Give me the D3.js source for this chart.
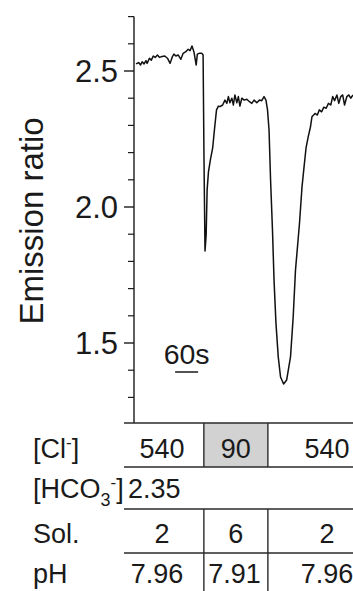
<!DOCTYPE html>
<html>
<head>
<meta charset="utf-8">
<script src="https://cdn.jsdelivr.net/npm/d3@7"></script>
<style>
  html, body { margin: 0; padding: 0; background: #fff; }
  svg { display: block; }
  text { font-family: "Liberation Sans", Arial, Helvetica, sans-serif; fill: #1a1a1a; }
</style>
</head>
<body>
<script>
// ---- data (time in s, emission ratio) ----
const time = [0, 7, 12, 16, 21, 26, 29, 35, 40, 45, 50, 56, 61, 68, 75, 82, 89, 95, 99, 104,
  110, 117, 123, 130, 136, 141, 146, 151, 157, 160, 165, 172, 175, 177.4, 180, 183, 185.5, 189, 194, 200,
  205, 210, 215, 219, 226, 232, 237, 241, 245, 250, 254, 258, 263, 267, 271, 276, 282, 289, 296, 302,
  308, 315, 322, 328, 334, 339, 343, 347, 351, 356, 360, 365, 371, 377, 385, 393, 403, 410, 416, 426.5,
  433, 438, 443.5, 449, 455, 459, 467, 473, 478, 484, 490, 496, 502, 508, 513, 518, 524, 529, 534, 539,
  544, 550, 555, 560, 566];
const ratio = [2.526, 2.531, 2.522, 2.534, 2.526, 2.538, 2.528, 2.547, 2.540, 2.555, 2.550, 2.559, 2.550, 2.553, 2.555, 2.547, 2.528, 2.553, 2.562, 2.555,
  2.559, 2.543, 2.565, 2.571, 2.580, 2.575, 2.592, 2.571, 2.522, 2.562, 2.565, 2.565, 2.559, 2.173, 1.838, 1.897, 2.063, 2.129, 2.173, 2.217,
  2.290, 2.357, 2.371, 2.369, 2.375, 2.393, 2.381, 2.406, 2.383, 2.400, 2.375, 2.412, 2.383, 2.406, 2.371, 2.400, 2.393, 2.396, 2.387, 2.381,
  2.393, 2.383, 2.393, 2.391, 2.406, 2.393, 2.357, 2.283, 2.099, 1.915, 1.732, 1.574, 1.449, 1.375, 1.349, 1.364, 1.449, 1.596, 1.768, 1.941,
  2.074, 2.143, 2.217, 2.257, 2.294, 2.332, 2.344, 2.338, 2.357, 2.350, 2.367, 2.363, 2.381, 2.375, 2.406, 2.391, 2.412, 2.381, 2.406, 2.412,
  2.375, 2.406, 2.412, 2.400, 2.412];

const yMajorTicks = [1.5, 2.0, 2.5];
const yMinorTicks = [1.3, 1.4, 1.6, 1.7, 1.8, 1.9, 2.1, 2.2, 2.3, 2.4, 2.6, 2.7];
const yTickLabels = ["1.5", "2.0", "2.5"];
const yLabel = "Emission ratio";
const scaleBarSeconds = [102, 162];
const scaleBarLabel = "60s";

// solution switch times (s)
const switchTimes = [177, 344];
const clValues = ["540", "90", "540"];
const hco3Value = "2.35";
const solValues = ["2", "6", "2"];
const phValues = ["7.96", "7.91", "7.96"];

// ---- layout ----
const W = 353, H = 591;
const svg = d3.select("body").append("svg").attr("width", W).attr("height", H);

const x = d3.scaleLinear().domain([0, 566]).range([136, 353]);
const y = d3.scaleLinear().domain([1.2, 2.7]).range([424.6, 16.6]);
const axisX = 134;
const ink = "#1a1a1a";

// y axis: line + ticks
svg.append("line").attr("x1", axisX).attr("x2", axisX).attr("y1", y(2.7)).attr("y2", 423)
  .attr("stroke", ink).attr("stroke-width", 1.4);
svg.selectAll(".minor").data(yMinorTicks).enter().append("line")
  .attr("x1", axisX - 6).attr("x2", axisX).attr("y1", d => y(d)).attr("y2", d => y(d))
  .attr("stroke", ink).attr("stroke-width", 1.2);
svg.selectAll(".major").data(yMajorTicks).enter().append("line")
  .attr("x1", axisX - 10).attr("x2", axisX).attr("y1", d => y(d)).attr("y2", d => y(d))
  .attr("stroke", ink).attr("stroke-width", 1.4);
svg.selectAll(".tl").data(yMajorTicks).enter().append("text")
  .attr("x", 118).attr("y", d => y(d) + 10.5)
  .attr("text-anchor", "end").attr("font-size", 31)
  .text((d, i) => yTickLabels[i]);

svg.append("text")
  .attr("transform", "translate(43,221) rotate(-90)")
  .attr("text-anchor", "middle").attr("font-size", 33)
  .text(yLabel);

// trace
const pts = time.map((t, i) => [t, ratio[i]]);
svg.append("path").datum(pts)
  .attr("d", d3.line().x(d => x(d[0])).y(d => y(d[1])))
  .attr("fill", "none").attr("stroke", "#111").attr("stroke-width", 1.5)
  .attr("stroke-linejoin", "round");

// scale bar
svg.append("line").attr("x1", x(scaleBarSeconds[0])).attr("x2", x(scaleBarSeconds[1]))
  .attr("y1", 372).attr("y2", 372).attr("stroke", ink).attr("stroke-width", 1.5);
svg.append("text").attr("x", (x(scaleBarSeconds[0]) + x(scaleBarSeconds[1])) / 2).attr("y", 364)
  .attr("text-anchor", "middle").attr("font-size", 28.5).text(scaleBarLabel);

// ---- table ----
const tL = 124, tR = 353;
const rowLines = [423, 467, 509, 553];
const vx = switchTimes.map(t => x(t));
const fs = 27;

// grey cell for 90 mM Cl-
svg.append("rect").attr("x", vx[0]).attr("y", rowLines[0]).attr("width", vx[1] - vx[0])
  .attr("height", rowLines[1] - rowLines[0]).attr("fill", "#d2d2d2");

rowLines.forEach(yy => {
  svg.append("line").attr("x1", tL).attr("x2", tR).attr("y1", yy).attr("y2", yy)
    .attr("stroke", "#2a2a2a").attr("stroke-width", 1.4);
});
const vSegs = [[rowLines[0], rowLines[1]], [rowLines[2], rowLines[3]], [rowLines[3], H]];
vSegs.forEach(s => vx.forEach(xx => {
  svg.append("line").attr("x1", xx).attr("x2", xx).attr("y1", s[0]).attr("y2", s[1])
    .attr("stroke", "#2a2a2a").attr("stroke-width", 1.4);
}));

const colCenters = [162, (vx[0] + vx[1]) / 2, 327];
const rowBase = { cl: 458, hco3: 498, sol: 543, ph: 583 };

// row labels
const lab = (yy) => svg.append("text").attr("x", 33).attr("y", yy).attr("font-size", fs);
const cl = lab(rowBase.cl);
cl.append("tspan").text("[Cl");
cl.append("tspan").attr("font-size", 17).attr("dy", -10).text("-");
cl.append("tspan").attr("dy", 10).text("]");

const hc = lab(rowBase.hco3);
hc.append("tspan").text("[HCO");
hc.append("tspan").attr("font-size", 18).attr("dy", 8).text("3");
hc.append("tspan").attr("font-size", 17).attr("dy", -18).text("-");
hc.append("tspan").attr("dy", 10).text("]");
svg.append("text").attr("x", 128).attr("y", rowBase.hco3).attr("font-size", fs).text(hco3Value);

lab(rowBase.sol).text("Sol.");
lab(rowBase.ph).text("pH");

clValues.forEach((v, i) => svg.append("text").attr("x", colCenters[i]).attr("y", rowBase.cl)
  .attr("text-anchor", "middle").attr("font-size", fs).text(v));
solValues.forEach((v, i) => svg.append("text").attr("x", colCenters[i]).attr("y", rowBase.sol)
  .attr("text-anchor", "middle").attr("font-size", fs).text(v));
const phCenters = [157, 234.5, 327];
phValues.forEach((v, i) => svg.append("text").attr("x", phCenters[i]).attr("y", rowBase.ph)
  .attr("text-anchor", "middle").attr("font-size", fs).text(v));
</script>
</body>
</html>
